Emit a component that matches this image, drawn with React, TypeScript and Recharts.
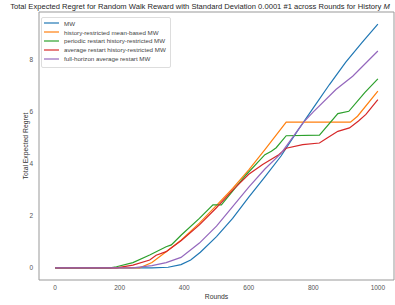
import React from 'react';
import { LineChart, Line, XAxis, YAxis, ReferenceArea } from 'recharts';

const X_TICKS = [0, 200, 400, 600, 800, 1000];
const Y_TICKS = [0, 2, 4, 6, 8];

const MW_ROUNDS = [0, 300, 350, 390, 420, 450, 500, 550, 600, 650, 700, 750, 800, 850, 900, 950, 1000];
const MW_REGRET = [0, 0, 0.02, 0.12, 0.3, 0.6, 1.2, 1.9, 2.72, 3.5, 4.3, 5.25, 6.15, 7.05, 7.9, 8.65, 9.37];

const HR_ROUNDS = [0, 262, 300, 344, 391, 447, 500, 550, 600, 650, 716, 915, 937, 1000];
const HR_REGRET = [0, 0, 0.2, 0.62, 1.07, 1.72, 2.4, 3.05, 3.77, 4.55, 5.6, 5.6, 5.83, 6.8];

const PR_ROUNDS = [0, 170, 190, 241, 293, 344, 360, 391, 447, 489, 515, 550, 592, 650, 670, 685, 716, 819, 876, 910, 960, 1000];
const PR_REGRET = [0, 0, 0.04, 0.2, 0.49, 0.81, 0.88, 1.26, 1.9, 2.42, 2.42, 2.95, 3.58, 4.35, 4.48, 4.62, 5.08, 5.1, 5.93, 6.02, 6.75, 7.27];

const AR_ROUNDS = [0, 190, 241, 293, 313, 344, 391, 447, 499, 551, 600, 643, 693, 716, 767, 819, 844, 876, 912, 940, 963, 1000];
const AR_REGRET = [0, 0, 0.1, 0.3, 0.48, 0.62, 1.05, 1.65, 2.3, 3.0, 3.6, 3.97, 4.35, 4.6, 4.74, 4.8, 5.0, 5.25, 5.38, 5.65, 5.9, 6.47];

const FH_ROUNDS = [0, 240, 300, 344, 390, 447, 500, 550, 600, 650, 700, 770, 800, 870, 922, 1000];
const FH_REGRET = [0, 0, 0.08, 0.2, 0.4, 0.95, 1.6, 2.35, 3.1, 3.8, 4.4, 5.6, 6.0, 6.86, 7.37, 8.34];

const zip = (xs: number[], ys: number[]) => xs.map((x, i) => ({ x, y: ys[i] }));

const SERIES = [
  { name: 'MW', color: '#1f77b4', data: zip(MW_ROUNDS, MW_REGRET) },
  { name: 'history-restricted mean-based MW', color: '#ff7f0e', data: zip(HR_ROUNDS, HR_REGRET) },
  { name: 'periodic restart history-restricted MW', color: '#2ca02c', data: zip(PR_ROUNDS, PR_REGRET) },
  { name: 'average restart history-restricted MW', color: '#d62728', data: zip(AR_ROUNDS, AR_REGRET) },
  { name: 'full-horizon average restart MW', color: '#9467bd', data: zip(FH_ROUNDS, FH_REGRET) },
];

const FONT = '"Liberation Sans", Arial, sans-serif';

export default function App() {
  return (
    <div style={{ position: 'absolute', left: 0, top: 0, width: 395, height: 305, background: '#fff', fontFamily: FONT }}>
      <div style={{ position: 'absolute', left: 0, top: 1, width: 400, textAlign: 'center', fontSize: 7.6, color: '#262626', whiteSpace: 'nowrap', lineHeight: '12px' }}>
        Total Expected Regret for Random Walk Reward with Standard Deviation 0.0001 #1 across Rounds for History <i>M</i>
      </div>
      <LineChart width={395} height={305} margin={{ top: 12, right: 1, left: 0, bottom: 0 }}>
        <XAxis
          dataKey="x"
          type="number"
          domain={[-50, 1050]}
          allowDataOverflow
          ticks={X_TICKS}
          tickLine={false}
          axisLine={false}
          tickSize={0}
          tickMargin={5}
          height={25}
          tick={{ fontSize: 6.5, fill: '#555', fontFamily: FONT }}
          label={{ value: 'Rounds', position: 'center', dy: 4, fontSize: 6.8, fill: '#333', fontFamily: FONT }}
        />
        <YAxis
          type="number"
          domain={[-0.47, 9.84]}
          allowDataOverflow
          ticks={Y_TICKS}
          tickLine={false}
          axisLine={false}
          tickSize={0}
          tickMargin={6}
          width={39}
          tick={{ fontSize: 6.5, fill: '#555', fontFamily: FONT }}
          label={{ value: 'Total Expected Regret', angle: -90, position: 'center', dx: 6, fontSize: 6.8, fill: '#333', fontFamily: FONT }}
        />
        <ReferenceArea x1={-50} x2={1050} y1={-0.47} y2={9.84} fill="none" stroke="#999" strokeWidth={1} ifOverflow="visible" />
        {SERIES.map((s) => (
          <Line
            key={s.name}
            data={s.data}
            dataKey="y"
            name={s.name}
            stroke={s.color}
            strokeWidth={1.2}
            dot={false}
            activeDot={false}
            type="linear"
            isAnimationActive={false}
          />
        ))}
      </LineChart>
      <div style={{ position: 'absolute', left: 41, top: 17, width: 130, height: 51, boxSizing: 'border-box', border: '1px solid #ddd', borderRadius: 2, background: 'rgba(255,255,255,0.8)', padding: '1px 0 0 2px' }}>
        {SERIES.map((s) => (
          <div key={s.name} style={{ display: 'flex', alignItems: 'center', height: 8.8, fontSize: 6.2, color: '#444', whiteSpace: 'nowrap' }}>
            <svg width={15} height={4} style={{ marginRight: 5, display: 'block' }}>
              <line x1={0} x2={15} y1={2} y2={2} stroke={s.color} strokeWidth={1.4} strokeOpacity={0.85} />
            </svg>
            <span>{s.name}</span>
          </div>
        ))}
      </div>
    </div>
  );
}
